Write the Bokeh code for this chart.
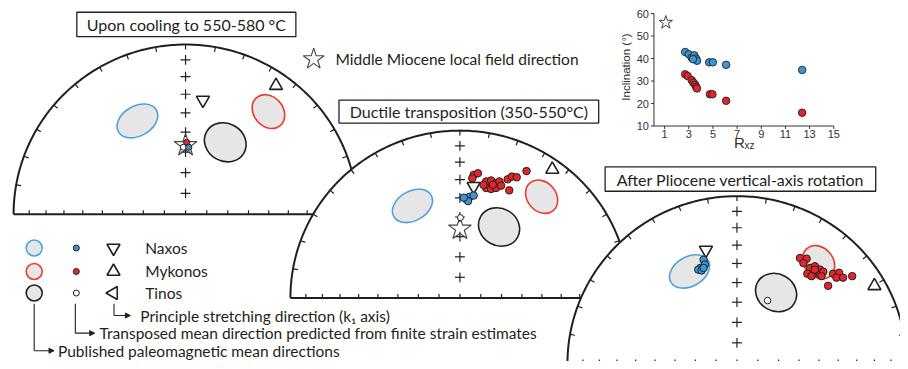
import numpy as np
from bokeh.plotting import figure
from bokeh.models import Range1d, Arrow, NormalHead
from bokeh.embed import file_html
from bokeh.resources import INLINE
from bokeh.core.properties import value

# ---------------- inset: inclination vs finite strain ratio Rxz ----------------
naxos_rxz = [2.70, 3.00, 3.24, 3.46, 3.60, 3.68, 3.35, 4.69, 4.99, 6.09, 12.38]
naxos_inc = [42.9, 41.9, 40.4, 41.4, 40.0, 39.0, 39.7, 38.3, 38.3, 37.2, 34.9]
mykonos_rxz = [2.70, 2.91, 3.24, 3.38, 3.52, 3.60, 3.68, 4.75, 4.96, 6.09, 12.38]
mykonos_inc = [33.0, 32.2, 30.4, 29.3, 28.4, 27.4, 26.7, 24.1, 24.1, 21.2, 15.9]
field_rxz = [1.1]
field_inc = [56.0]
inset_xticks = [1, 3, 5, 7, 9, 11, 13, 15]
inset_yticks = [10, 20, 30, 40, 50, 60]
inset_xlim = [0.12, 15]
inset_ylim = [10, 60]

# ---------------- stereonets (unit equal-area net, east / north) ----------------
# published paleomagnetic mean directions + confidence ellipses (same in every panel)
pm_island = ["Naxos", "Mykonos", "Tinos"]
pm_e = [-0.280, 0.482, 0.231]
pm_n = [0.550, 0.605, 0.424]
pm_major = [0.254, 0.213, 0.250]
pm_minor = [0.176, 0.173, 0.222]
pm_angle = [30, -50, -30]

# inclination rings of the net
net_incs = [10, 20, 30, 40, 50, 60, 70, 80]

# panel 1: upon cooling to 550-580 C
p1_field_e, p1_field_n = [0.0], [0.406]
p1_k1_naxos_e, p1_k1_naxos_n = [0.101], [0.673]
p1_k1_myk_e, p1_k1_myk_n = [0.526], [0.758]
p1_tinos_e, p1_tinos_n = [-0.013], [0.395]
p1_myk_e, p1_myk_n = [0.006], [0.424]
p1_nax_e, p1_nax_n = [0.019], [0.395]

# panel 2: ductile transposition
p2_field_e, p2_field_n = [0.0], [0.413]
p2_k1_naxos_e, p2_k1_naxos_n = [0.081], [0.667]
p2_k1_myk_e, p2_k1_myk_n = [0.545], [0.768]
p2_tinos_e, p2_tinos_n = [0.003], [0.480]
p2_nax_e = [0.038, 0.057, 0.081, 0.048, 0.023]
p2_nax_n = [0.589, 0.604, 0.612, 0.579, 0.599]
p2_myk_e = [0.081, 0.106, 0.155, 0.184, 0.213, 0.233, 0.155, 0.184, 0.213,
            0.243, 0.282, 0.307, 0.335, 0.393, 0.291, 0.139, 0.194, 0.073]
p2_myk_n = [0.735, 0.745, 0.696, 0.702, 0.686, 0.696, 0.657, 0.651, 0.657,
            0.671, 0.709, 0.725, 0.721, 0.758, 0.643, 0.676, 0.676, 0.715]

# panel 3: after Pliocene vertical-axis rotation
p3_k1_naxos_e, p3_k1_naxos_n = [-0.183], [0.678]
p3_k1_myk_e, p3_k1_myk_n = [0.811], [0.464]
p3_tinos_e, p3_tinos_n = [0.181], [0.376]
p3_nax_e = [-0.197, -0.189, -0.216, -0.228, -0.209, -0.197]
p3_nax_n = [0.620, 0.591, 0.571, 0.561, 0.556, 0.571]
p3_myk_e = [0.372, 0.411, 0.392, 0.431, 0.460, 0.489, 0.450, 0.489, 0.509, 0.415,
            0.499, 0.567, 0.602, 0.587, 0.626, 0.680, 0.538, 0.460, 0.440]
p3_myk_n = [0.630, 0.626, 0.600, 0.571, 0.581, 0.561, 0.536, 0.532, 0.548, 0.536,
            0.522, 0.536, 0.542, 0.513, 0.513, 0.522, 0.464, 0.561, 0.522]

# ---------------- styles ----------------
INK = "#231f20"
BLUE_L, BLUE_F = "#4aa3df", "#3b96d6"
RED_L, RED_F = "#ec3b2f", "#e3262b"
GRAY = "#e6e6e6"
FONT = value("Lato")
W, H = 908, 369

p = figure(width=900, height=361, x_range=Range1d(0, W), y_range=Range1d(H, 0),
           output_backend="svg", toolbar_location=None, min_border=0,
           x_axis_location=None, y_axis_location=None)
p.grid.visible = False
p.outline_line_color = None
p.background_fill_color = "white"


def add_frame(name, a0, px0, a1, px1, axis):
    k = (a1 - a0) / (px1 - px0)
    if axis == "x":
        p.extra_x_ranges[name] = Range1d(a0 + (0 - px0) * k, a0 + (W - px0) * k)
    else:
        p.extra_y_ranges[name] = Range1d(a0 + (H - px0) * k, a0 + (0 - px0) * k)


def ea(inc):
    return np.sqrt(2) * np.sin(np.radians(90 - np.asarray(inc, float)) / 2)


def draw_net(key, cx, cy, R):
    xr, yr = "nx" + key, "ny" + key
    add_frame(xr, 0, cx, 1, cx + R, "x")
    add_frame(yr, 0, cy, 1, cy - R, "y")
    kw = dict(x_range_name=xr, y_range_name=yr)
    t = np.linspace(0, np.pi, 241)
    p.patch(np.cos(t), np.sin(t), fill_color="white", line_color=None, **kw)
    p.line(np.cos(t), np.sin(t), line_color=INK, line_width=2, **kw)
    p.line([-1, 1], [0, 0], line_color=INK, line_width=2, **kw)
    tl = 5.0 / R
    # declination ticks on the arc (inward)
    d = np.radians(np.arange(-80, 90, 10))
    p.multi_line([[np.sin(a), (1 - tl) * np.sin(a)] for a in d],
                 [[np.cos(a), (1 - tl) * np.cos(a)] for a in d],
                 line_color=INK, line_width=1.2, **kw)
    # inclination ticks on the baseline
    rr = ea(net_incs + [90])
    xs = np.r_[rr, -rr[:-1]]
    p.multi_line([[x, x] for x in xs], [[0, 0.8 * tl] for x in xs],
                 line_color=INK, line_width=1.2, **kw)
    # crosses along the vertical axis
    rv = ea(net_incs)
    c = 5.0 / R
    p.multi_line([[-c, c] for r in rv] + [[0, 0] for r in rv],
                 [[r, r] for r in rv] + [[r - c, r + c] for r in rv],
                 line_color=INK, line_width=1.2, **kw)
    # published paleomagnetic ellipses
    p.ellipse(pm_e, pm_n, width=pm_major, height=pm_minor, angle=pm_angle, angle_units="deg",
              fill_color=GRAY, line_color=[BLUE_L, RED_L, INK], line_width=1.6, **kw)
    return kw


def tri(kw, e, n, marker, size=13):
    p.scatter(e, n, marker=marker, size=size, fill_color="white", line_color=INK,
              line_width=1.6, **kw)


def dots(kw, e, n, color, size=7.5):
    p.scatter(e, n, marker="circle", size=size, fill_color=color, line_color=INK,
              line_width=1.0, **kw)


# panel 1
kw = draw_net("1", 186.7, 218.5, 173.5)
tri(kw, p1_k1_naxos_e, p1_k1_naxos_n, "inverted_triangle")
tri(kw, p1_k1_myk_e, p1_k1_myk_n, "triangle")
p.scatter(p1_field_e, p1_field_n, marker="star", size=24, fill_color=None,
          line_color="#444444", line_width=1.1, **kw)
dots(kw, p1_tinos_e, p1_tinos_n, "white", 6)
dots(kw, p1_myk_e, p1_myk_n, RED_F, 6)
dots(kw, p1_nax_e, p1_nax_n, BLUE_F, 6)

# panel 2
kw = draw_net("2", 463.5, 304, 171)
tri(kw, p2_k1_naxos_e, p2_k1_naxos_n, "inverted_triangle")
tri(kw, p2_k1_myk_e, p2_k1_myk_n, "triangle")
p.scatter(p2_field_e, p2_field_n, marker="star", size=24, fill_color=None,
          line_color="#444444", line_width=1.1, **kw)
dots(kw, p2_tinos_e, p2_tinos_n, "white", 6)
dots(kw, p2_myk_e, p2_myk_n, RED_F)
dots(kw, p2_nax_e, p2_nax_n, BLUE_F)

# panel 3
kw = draw_net("3", 743, 371, 171)
tri(kw, p3_k1_naxos_e, p3_k1_naxos_n, "inverted_triangle")
tri(kw, p3_k1_myk_e, p3_k1_myk_n, "triangle")
dots(kw, p3_tinos_e, p3_tinos_n, "white", 6.5)
dots(kw, p3_nax_e, p3_nax_n, BLUE_F)
dots(kw, p3_myk_e, p3_myk_n, RED_F)

# title boxes
titles = ["Upon cooling to 550-580 °C", "Ductile transposition (350-550°C)",
          "After Pliocene vertical-axis rotation"]
tx, ty = [187.5, 472.5, 746.5], [24.5, 113.5, 182.5]
tw, th = [221, 262, 273], [25, 23.5, 25]
p.rect(tx, ty, width=tw, height=th, fill_color="white", line_color=INK, line_width=1.3)
p.text(tx, ty, text=titles, text_font=FONT, text_font_size="16px", text_color=INK,
       text_align="center", text_baseline="middle")

# field direction legend
p.scatter([316], [60], marker="star", size=22, fill_color="white", line_color="#444444",
          line_width=1.1)
p.text([338], [60], text=["Middle Miocene local field direction"], text_font=FONT,
       text_font_size="15.5px", text_color=INK, text_baseline="middle")

# island legend
rows = [253, 277, 299]
p.scatter([34] * 3, rows, marker="circle", size=16, fill_color=GRAY,
          line_color=[BLUE_L, RED_L, INK], line_width=1.6)
p.scatter([76.5] * 3, rows, marker="circle", size=6, fill_color=[BLUE_F, RED_F, "white"],
          line_color=INK, line_width=1.0)
p.scatter([114, 114], rows[:2], marker=["inverted_triangle", "triangle"], size=13,
          fill_color="white", line_color=INK, line_width=1.6)
p.scatter([114], rows[2:], marker="triangle", angle=np.pi / 2, size=13,
          fill_color="white", line_color=INK, line_width=1.6)
p.text([146] * 3, rows, text=pm_island, text_font=FONT, text_font_size="15.5px",
       text_color=INK, text_baseline="middle")

legend_notes = ["Principle stretching direction (k\u2081 axis)",
                "Transposed mean direction predicted from finite strain estimates",
                "Published paleomagnetic mean directions"]
nx0 = [114.5, 75.5, 34]
ny0 = [310, 310, 310]
ny1 = [322, 340, 358]
nx1 = [131, 95, 54]
p.multi_line([[a, a] for a in nx0], [[b, c] for b, c in zip(ny0, ny1)],
             line_color=INK, line_width=1.1)
for a, c, e in zip(nx0, ny1, nx1):
    p.add_layout(Arrow(x_start=a, y_start=c, x_end=e, y_end=c, line_color=INK, line_width=1.1,
                       end=NormalHead(size=5, fill_color=INK, line_color=INK)))
p.text([141, 100, 58], ny1, text=legend_notes, text_font=FONT, text_font_size="15.5px",
       text_color=INK, text_baseline="middle")

# ---------------- inset scatter ----------------
add_frame("rx", 1, 670, 15, 840.7, "x")
add_frame("iy", 10, 128.3, 60, 13.3, "y")
ik = dict(x_range_name="rx", y_range_name="iy")
AX = "#333333"
ux = 14 / (840.7 - 670)   # data units per px
uy = 50 / (128.3 - 13.3)
p.line([inset_xlim[0], inset_xlim[1]], [inset_ylim[0]] * 2, line_color=AX, line_width=1, **ik)
p.line([inset_xlim[0]] * 2, inset_ylim, line_color=AX, line_width=1, **ik)
p.multi_line([[v, v] for v in inset_xticks], [[inset_ylim[0], inset_ylim[0] - 3 * uy]] * len(inset_xticks),
             line_color=AX, line_width=1, **ik)
p.multi_line([[inset_xlim[0], inset_xlim[0] - 3 * ux]] * len(inset_yticks), [[v, v] for v in inset_yticks],
             line_color=AX, line_width=1, **ik)
p.text(inset_xticks, [inset_ylim[0]] * len(inset_xticks), text=[str(v) for v in inset_xticks],
       y_offset=4, text_align="center", text_baseline="top", text_font=value("Liberation Sans"),
       text_font_size="11px", text_color=AX, **ik)
p.text([inset_xlim[0]] * len(inset_yticks), inset_yticks, text=[str(v) for v in inset_yticks],
       x_offset=-5, text_align="right", text_baseline="middle", text_font=value("Liberation Sans"),
       text_font_size="11px", text_color=AX, **ik)
p.text([631], [68], text=["Inclination (°)"], angle=np.pi / 2, text_align="center",
       text_baseline="middle", text_font=value("Liberation Sans"), text_font_size="11.5px",
       text_color=AX)
p.text([740], [145], text=["R"], text_baseline="middle", text_font=value("Liberation Sans"),
       text_font_size="15px", text_color=AX)
p.text([750.5], [148.5], text=["xz"], text_baseline="middle", text_font=value("Liberation Sans"),
       text_font_size="10px", text_color=AX)
p.scatter(field_rxz, field_inc, marker="star", size=14, fill_color="white", line_color="#444444",
          line_width=1, **ik)
p.scatter(naxos_rxz, naxos_inc, marker="circle", size=7.5, fill_color=BLUE_F, line_color=INK,
          line_width=0.9, **ik)
p.scatter(mykonos_rxz, mykonos_inc, marker="circle", size=7.5, fill_color=RED_F, line_color=INK,
          line_width=0.9, **ik)

open("out.html", "w").write(file_html(p, INLINE))
